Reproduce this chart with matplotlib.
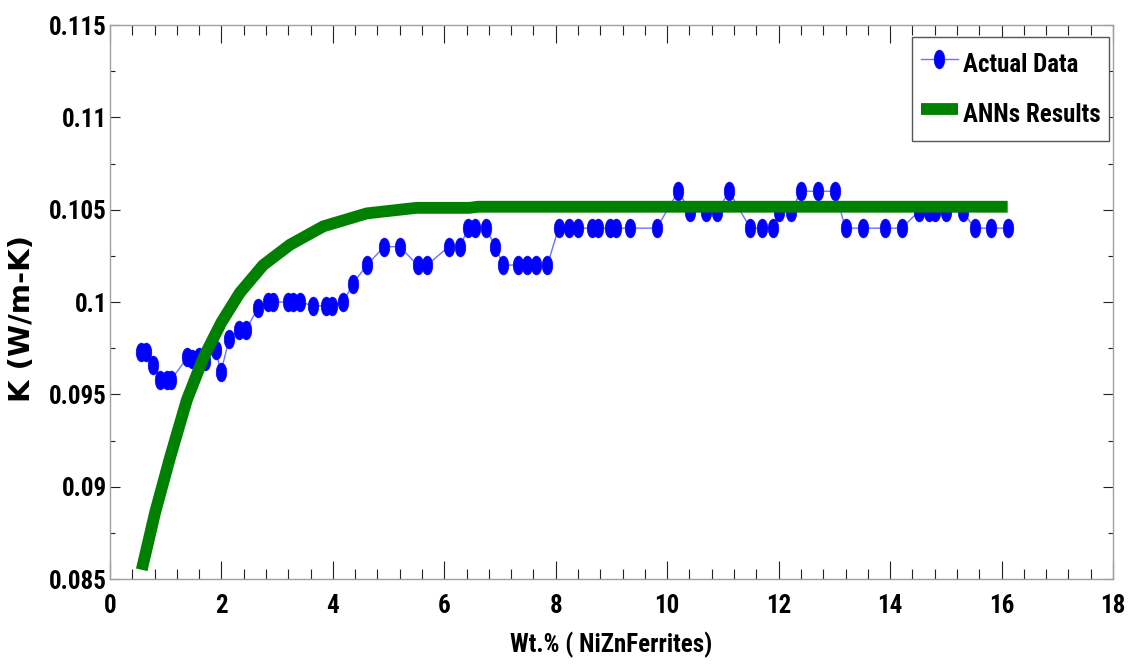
import numpy as np
import matplotlib
matplotlib.use('Agg')
import matplotlib.pyplot as plt
from matplotlib import font_manager as fm
from matplotlib.path import Path
from matplotlib.transforms import Affine2D
from matplotlib.ticker import MultipleLocator

# measured thermal conductivity vs wt.% of NiZn ferrites
wt_actual = [0.55, 0.65, 0.78, 0.90, 1.02, 1.10, 1.39, 1.48, 1.60, 1.70, 1.90, 1.99,
             2.14, 2.32, 2.44, 2.66, 2.84, 2.92, 3.19, 3.29, 3.41, 3.64, 3.87, 3.99,
             4.19, 4.36, 4.61, 4.92, 5.20, 5.52, 5.69, 6.08, 6.28, 6.43, 6.55, 6.75,
             6.91, 7.06, 7.33, 7.48, 7.64, 7.85, 8.05, 8.24, 8.40, 8.65, 8.75, 8.97,
             9.09, 9.33, 9.81, 10.20, 10.41, 10.70, 10.90, 11.11, 11.49, 11.70, 11.89,
             12.01, 12.22, 12.40, 12.71, 13.01, 13.20, 13.51, 13.91, 14.21, 14.51,
             14.70, 14.81, 15.00, 15.30, 15.52, 15.81, 16.11]
k_actual = [0.0973, 0.0973, 0.0966, 0.0958, 0.0958, 0.0958, 0.0970, 0.0969, 0.0970, 0.0968,
            0.0974, 0.0962, 0.0980, 0.0985, 0.0985, 0.0997, 0.1000, 0.1000, 0.1000, 0.1000,
            0.1000, 0.0998, 0.0998, 0.0998, 0.1000, 0.1010, 0.1020, 0.1030, 0.1030, 0.1020,
            0.1020, 0.1030, 0.1030, 0.1040, 0.1040, 0.1040, 0.1030, 0.1020, 0.1020, 0.1020,
            0.1020, 0.1020, 0.1040, 0.1040, 0.1040, 0.1040, 0.1040, 0.1040, 0.1040, 0.1040,
            0.1040, 0.1060, 0.1049, 0.1049, 0.1049, 0.1060, 0.1040, 0.1040, 0.1040, 0.1049,
            0.1049, 0.1060, 0.1060, 0.1060, 0.1040, 0.1040, 0.1040, 0.1040, 0.1049, 0.1049,
            0.1049, 0.1049, 0.1049, 0.1040, 0.1040, 0.1040]

# ANN prediction
wt_ann = [0.57, 0.81, 1.08, 1.38, 1.68, 2.00, 2.33, 2.75, 3.23, 3.83, 4.61, 5.50,
          6.10, 6.45, 6.60, 16.11]
k_ann = [0.0855, 0.0886, 0.0916, 0.0947, 0.0970, 0.0989, 0.1005, 0.1020, 0.1031,
         0.1041, 0.1048, 0.1051, 0.1051, 0.1051, 0.10516, 0.10516]

xticks = [0, 2, 4, 6, 8, 10, 12, 14, 16, 18]
yticks = [0.085, 0.09, 0.095, 0.1, 0.105, 0.11, 0.115]
ytick_labels = ['0.085', '0.09', '0.095', '0.1', '0.105', '0.11', '0.115']


# original uses a narrow bold face; take one if installed
def pick_font():
    for fam, size in [('Liberation Sans Narrow', 19), ('Arial Narrow', 19),
                      ('Noto Sans ExtraCondensed', 19), ('Noto Sans Condensed', 17.5),
                      ('Roboto Condensed', 18)]:
        try:
            fm.findfont(fm.FontProperties(family=fam, weight='bold'),
                        fallback_to_default=False)
            return fam, size
        except ValueError:
            pass
    return 'Liberation Sans', 16.5


font_name, font_size = pick_font()
narrow = [font_name, 'DejaVu Sans']

# tall ellipse marker like the original
ellipse = Path.unit_circle().transformed(Affine2D().scale(0.56, 1.0))

fig = plt.figure(figsize=(11.42, 6.69), dpi=100)
ax = fig.add_axes([0.0963, 0.1345, 0.8783, 0.8281])

ax.plot(wt_actual, k_actual, color='#7070ff', linewidth=1.0,
        marker=ellipse, markersize=13.5, markerfacecolor='#0000ff',
        markeredgecolor='#0000ff', markeredgewidth=0.5, label='Actual Data', zorder=2)
ax.plot(wt_ann, k_ann, color='#008000', linewidth=8.5, solid_capstyle='butt',
        solid_joinstyle='round', label='ANNs Results', zorder=3)

ax.set_xlim(0, 18)
ax.set_ylim(0.085, 0.115)
ax.set_xticks(xticks)
ax.set_xticklabels([str(t) for t in xticks])
ax.set_yticks(yticks)
ax.set_yticklabels(ytick_labels)
ax.xaxis.set_minor_locator(MultipleLocator(0.4))
ax.yaxis.set_minor_locator(MultipleLocator(0.0025))

for s in ax.spines.values():
    s.set_color('#a0a0a0')
    s.set_linewidth(1.0)

ax.tick_params(axis='both', which='both', direction='in', top=True, right=True,
               color='#222222', width=0.8)
ax.tick_params(axis='x', which='major', length=13, pad=11)
ax.tick_params(axis='x', which='minor', length=7)
ax.tick_params(axis='y', which='major', length=7, pad=2)
ax.tick_params(axis='y', which='minor', length=3.6)

for lbl in ax.get_xticklabels() + ax.get_yticklabels():
    lbl.set_family(narrow)
    lbl.set_fontweight('bold')
    lbl.set_fontsize(font_size)

ax.set_xlabel('Wt.% ( NiZnFerrites)', family=narrow, fontweight='bold',
              fontsize=font_size, labelpad=10)
fig.text(22 / 1142, 1 - 318 / 669, 'K (W/m-K)', family='DejaVu Sans',
         fontweight='bold', fontsize=21, rotation=90, ha='center', va='center')

leg = ax.legend(loc='upper right', bbox_to_anchor=(0.996, 0.978), borderaxespad=0,
                prop={'family': narrow, 'weight': 'bold', 'size': font_size},
                fancybox=False, framealpha=1, edgecolor='#555555',
                handlelength=1.5, handleheight=1.87, handletextpad=0.18,
                labelspacing=0.54, borderpad=0.35)
leg.get_frame().set_linewidth(1.0)

fig.savefig('out.png', dpi=100)
